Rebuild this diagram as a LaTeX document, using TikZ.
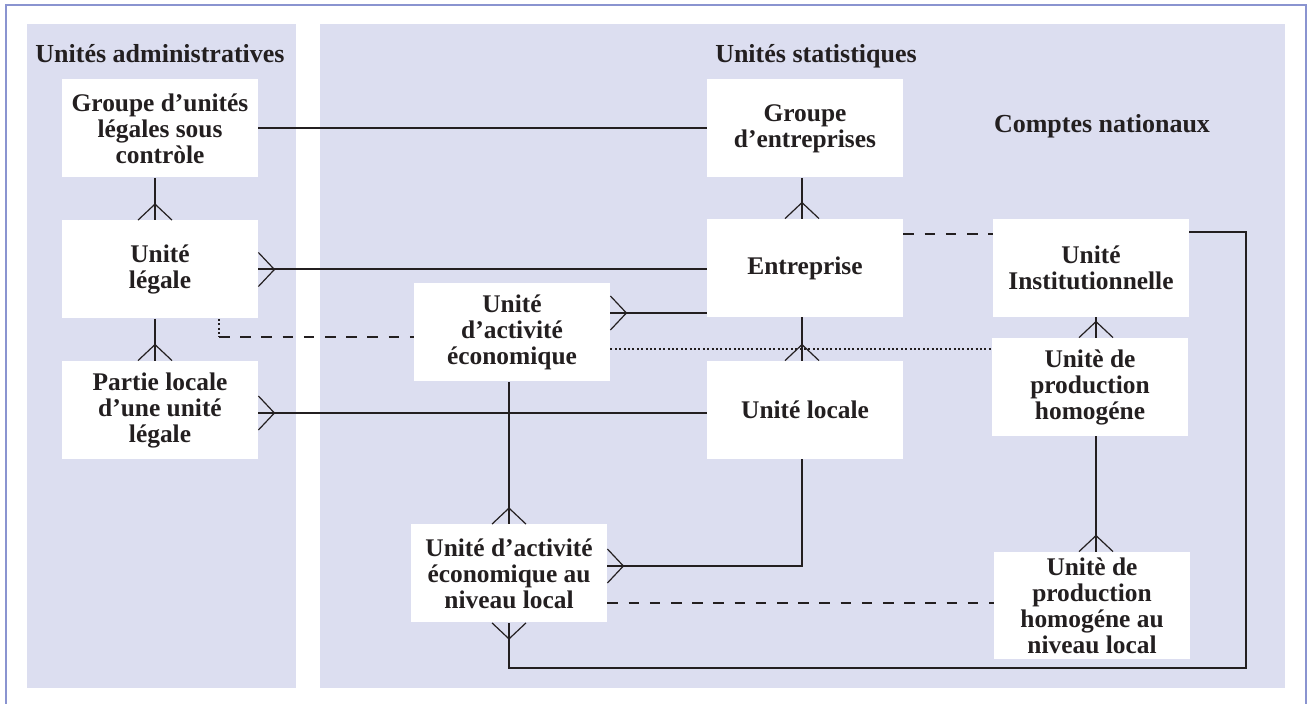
\documentclass[tikz,border=0pt]{standalone}
\usepackage{fontspec}
\setmainfont{Liberation Serif}
\usetikzlibrary{decorations.markings}
\definecolor{framecol}{RGB}{138,148,208}
\definecolor{panelcol}{RGB}{220,222,240}
\definecolor{inkcol}{RGB}{35,31,32}
\tikzset{
  unit/.style={fill=white, align=center, minimum width=98pt, minimum height=49pt,
    inner sep=0pt, text=inkcol, font=\bfseries\fontsize{12.7}{13}\selectfont},
  heading/.style={anchor=base, text=inkcol, font=\bfseries\fontsize{13}{14}\selectfont},
  link/.style={draw=inkcol, line width=1pt},
  weak/.style={link, dash pattern=on 5.3pt off 5.3pt},
  faint/.style={link, dash pattern=on 1pt off 1.2pt},
  crowpen/.style={draw=inkcol, line width=0.6pt, solid},
  crowend/.style={postaction={decorate}, decoration={markings,
    mark=at position 1 with {\draw[crowpen] (-8pt,0) -- (0,8.5pt) (-8pt,0) -- (0,-8.5pt);}}},
  crowstart/.style={postaction={decorate}, decoration={markings,
    mark=at position 0 with {\draw[crowpen] (8pt,0) -- (0,8.5pt) (8pt,0) -- (0,-8.5pt);}}},
}

\begin{document}
\begin{tikzpicture}[x=0.5pt, y=-0.5pt]
    \useasboundingbox (0,0) rectangle (1311,704);
    % frame and panels
    \draw[framecol, line width=1pt] (6,704) -- (6,5) -- (1306,5) -- (1306,704);
    \fill[panelcol] (27,24) rectangle (296,688);
    \fill[panelcol] (320,24) rectangle (1285,688);
    \node[heading] (hAdm) at (160,63) {Unités administratives};
    \node[heading] (hStat) at (816,63) {Unités statistiques};
    \node[heading] (hCpt) at (1102,133) {Comptes nationaux};
    % administrative units
    \node[unit] (GUL) at (160,128.5) {Groupe d’unités\\légales sous\\contròle};
    \node[unit] (UL) at (160,269.5) {Unité\\légale};
    \node[unit] (PLUL) at (160,410) {Partie locale\\d’une unité\\légale};
    % statistical units
    \node[unit] (GE) at (805,128.5) {Groupe\\d’entreprises};
    \node[unit] (EN) at (805,268) {Entreprise};
    \node[unit] (LU) at (805,410) {Unité locale};
    \node[unit] (UAE) at (512,332.5) {Unité\\d’activité\\économique};
    \node[unit] (UAEL) at (509,573.5) {Unité d’activité\\économique au\\niveau local};
    % national accounts
    \node[unit] (UI) at (1091,268) {Unité\\Institutionnelle};
    \node[unit] (UPH) at (1090,387) {Unitè de\\production\\homogéne};
    \node[unit, minimum height=53.5pt] (UPHL) at (1092,605.5) {Unitè de\\production\\homogéne au\\niveau local};
    \coordinate (ULbend) at (219,337);
    \coordinate (loopSE) at (1246,668);
    % solid links
    \draw[link] (GUL) -- (GE);
    \draw[link, crowend] ([xshift=-2.5pt]GUL.south) -- ([xshift=-2.5pt]UL.north);
    \draw[link, crowend] ([xshift=-2.5pt]UL.south) -- ([xshift=-2.5pt]PLUL.north);
    \draw[link, crowstart] (UL.east) -- (UL.east -| EN.west);
    \draw[link, crowstart] ([yshift=-1.5pt]PLUL.east) -- ([yshift=-1.5pt]PLUL.east -| LU.west);
    \draw[link, crowstart] ([yshift=9.75pt]UAE.east) -- ([yshift=9.75pt]UAE.east -| EN.west);
    \draw[link, crowend] ([xshift=-1.5pt]GE.south) -- ([xshift=-1.5pt]EN.north);
    \draw[link, crowend] ([xshift=-1.5pt]EN.south) -- ([xshift=-1.5pt]LU.north);
    \draw[link, crowend] ([xshift=-1.5pt]LU.south) |- ([yshift=3.75pt]UAEL.east);
    \draw[link, crowend] (UAE.south -| UAEL.north) -- (UAEL.north);
    \draw[link, crowstart] (UAEL.south) |- (loopSE) |- ([yshift=18pt]UI.east);
    \draw[link, crowend] ([xshift=2.5pt]UI.south) -- ([xshift=2.5pt]UI.south |- UPH.north);
    \draw[link, crowend] ([xshift=3pt]UPH.south) -- ([xshift=3pt]UPH.south |- UPHL.north);
    % dashed and dotted links
    \draw[weak] ([yshift=17pt]EN.east) -- ([yshift=17pt]EN.east -| UI.west);
    \draw[faint] (ULbend |- UL.south) -- (ULbend);
    \draw[weak] (ULbend) -- (ULbend -| UAE.west);
    \draw[faint] ([yshift=-8.25pt]UAE.east) -- ([yshift=-8.25pt]UAE.east -| UPH.west);
    \draw[weak] ([yshift=-14.75pt]UAEL.east) -- ([yshift=-14.75pt]UAEL.east -| UPHL.west);
\end{tikzpicture}
\end{document}
